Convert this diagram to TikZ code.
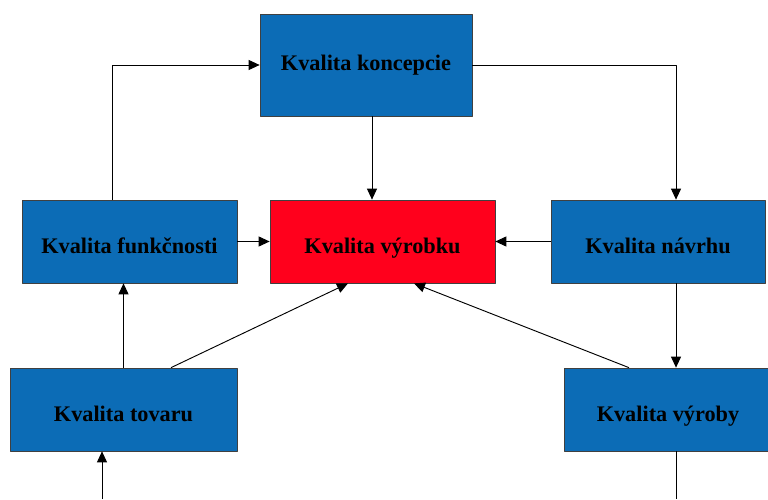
\documentclass[tikz,border=0pt]{standalone}
\usepackage{fontspec}
\setmainfont{Liberation Serif}
\usetikzlibrary{arrows.meta}
\definecolor{kvblue}{RGB}{12,108,182}
\definecolor{kvred}{RGB}{255,0,28}
\begin{document}
\begin{tikzpicture}[font=\fontsize{19}{22}\selectfont\bfseries, line join=round, >={Triangle[length=3.3mm,width=3mm]},
	kvbox/.style={draw=black!75, line width=0.6pt, fill=kvblue, minimum height=2.49cm, inner sep=0pt, text height=20pt, text depth=0pt},
	spoj/.style={->, line width=0.8pt}]
	\useasboundingbox (0,0) rectangle (23.04,14.97);
	\clip (0,0) rectangle (23.04,14.97);
	\path
	(10.98,13.02) coordinate (Pk)
	(3.885,7.725) coordinate (Pf)
	(11.475,7.725) coordinate (Pv)
	(19.74,7.725) coordinate (Pn)
	(3.705,2.685) coordinate (Pt)
	(20.04,2.685) coordinate (Py)
	(3.06,0) coordinate (Dt)
	(20.28,0) coordinate (Dy)
	;
	\node[kvbox, minimum width=6.36cm, minimum height=3.06cm, text height=13pt, text depth=4pt] (koncepcie) at (Pk) {Kvalita koncepcie};
	\node[kvbox, minimum width=6.45cm] (funkcnosti) at (Pf) {Kvalita funkčnosti};
	\node[kvbox, fill=kvred, minimum width=6.75cm] (vyrobku) at (Pv) {Kvalita výrobku};
	\node[kvbox, minimum width=6.42cm] (navrhu) at (Pn) {Kvalita návrhu};
	\node[kvbox, minimum width=6.81cm] (tovaru) at (Pt) {Kvalita tovaru};
	\node[kvbox, minimum width=6.24cm] (vyroby) at (Py) {Kvalita výroby};
	% horni okruh
	\draw[spoj] ([xshift=-0.525cm]funkcnosti.north) |- (koncepcie.west);
	\draw[spoj] (koncepcie.east) -| ([xshift=0.54cm]navrhu.north);
	\draw[spoj] ([xshift=0.18cm]koncepcie.south) -- ([xshift=0.18cm]koncepcie.south |- vyrobku.north);
	% stredni rada
	\draw[spoj] (funkcnosti.east) -- (vyrobku.west);
	\draw[spoj] (navrhu.west) -- (vyrobku.east);
	\draw[spoj] (tovaru.north) -- (tovaru.north |- funkcnosti.south);
	\draw[spoj] ([xshift=0.54cm]navrhu.south) -- ([xshift=0.54cm]navrhu.south |- vyroby.north);
	% sikme sipky
	\draw[spoj] ([xshift=1.425cm]tovaru.north) -- ([xshift=-1.035cm]vyrobku.south);
	\draw[spoj] ([xshift=-1.17cm]vyroby.north) -- ([xshift=0.945cm]vyrobku.south);
	% spodni okraj
	\draw[spoj] (Dt) -- (Dt |- tovaru.south);
	\draw[line width=0.8pt] (Dy |- vyroby.south) -- (Dy);
\end{tikzpicture}
\end{document}
